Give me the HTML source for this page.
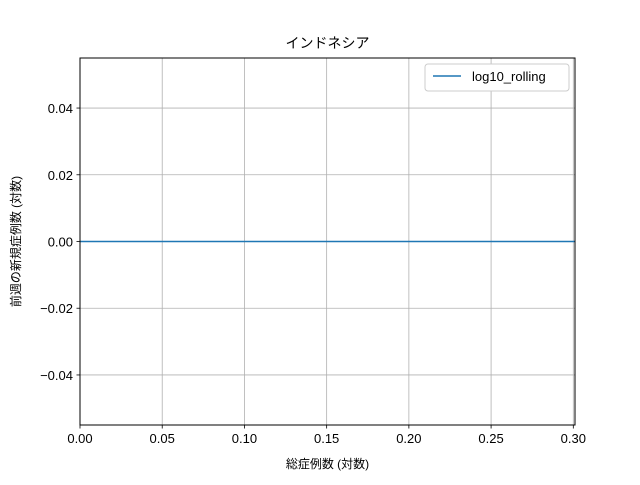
<!DOCTYPE html>
<html><head><meta charset="utf-8"><style>
body{margin:0;background:#fff;}
svg text{font-family:"Liberation Sans","Noto Sans CJK JP",sans-serif;fill:#000;}
</style></head><body>
<svg id="chart" width="640" height="480">
<rect width="640" height="480" fill="#fff"/>
<text x="327.5" y="48" font-size="14" text-anchor="middle">インドネシア</text>
<g id="grid"></g>
<g id="ticks"></g>
<g id="series"></g>
<rect x="80" y="58" width="495" height="367" fill="none" stroke="#000" stroke-width="1"/>
<text x="327.5" y="468" font-size="12" text-anchor="middle">総症例数 (対数)</text>
<text x="20" y="241.5" font-size="12" text-anchor="middle" transform="rotate(-90 20 241.5)">前週の新規症例数 (対数)</text>
<g>
<rect x="425" y="64" width="144" height="27" rx="3" fill="#fff" stroke="#ccc"/>
<line x1="433" y1="76" x2="461" y2="76" stroke="#1f77b4" stroke-width="1.5"/>
<text x="472" y="81" font-size="13">log10_rolling</text>
</g>
</svg>
<script>
const xTicks=[0,0.05,0.10,0.15,0.20,0.25,0.30];
const yTicks=[-0.04,-0.02,0,0.02,0.04];
const seriesX=[0,0.30103];
const seriesY=[0,0];
const xMin=0,xMax=0.30103,yMin=-0.055,yMax=0.055;
const L=80,R=575,T=58,B=425;
const sx=v=>L+(v-xMin)/(xMax-xMin)*(R-L);
const sy=v=>B-(v-yMin)/(yMax-yMin)*(B-T);
const NS="http://www.w3.org/2000/svg";
const grid=document.getElementById('grid'),ticks=document.getElementById('ticks'),ser=document.getElementById('series');
function mk(tag,attrs,parent){const e=document.createElementNS(NS,tag);for(const k in attrs)e.setAttribute(k,attrs[k]);parent.appendChild(e);return e;}
xTicks.forEach(v=>{const x=sx(v);
const g=mk('line',{x1:x,x2:x,y1:T,y2:B,stroke:'#b0b0b0','stroke-width':0.8},grid);


const t=mk('line',{x1:x,x2:x,y1:B,y2:B+3.5,stroke:'#000','stroke-width':0.8},ticks);


const l=mk('text',{x:x,y:B+18,'font-size':13,'text-anchor':'middle'},ticks);l.textContent=v.toFixed(2);


});
yTicks.forEach(v=>{const y=sy(v);
const g=mk('line',{x1:L,x2:R,y1:y,y2:y,stroke:'#b0b0b0','stroke-width':0.8},grid);


const t=mk('line',{x1:L-3.5,x2:L,y1:y,y2:y,stroke:'#000','stroke-width':0.8},ticks);


const l=mk('text',{x:L-7,y:y+5,'font-size':13,'text-anchor':'end'},ticks);l.textContent=(v<0?'\u2212':'')+Math.abs(v).toFixed(2);


});
const p=mk('polyline',{points:seriesX.map((x,i)=>sx(x)+','+sy(seriesY[i])).join(' '),fill:'none',stroke:'#1f77b4','stroke-width':1.5},ser);


</script>
</body></html>
